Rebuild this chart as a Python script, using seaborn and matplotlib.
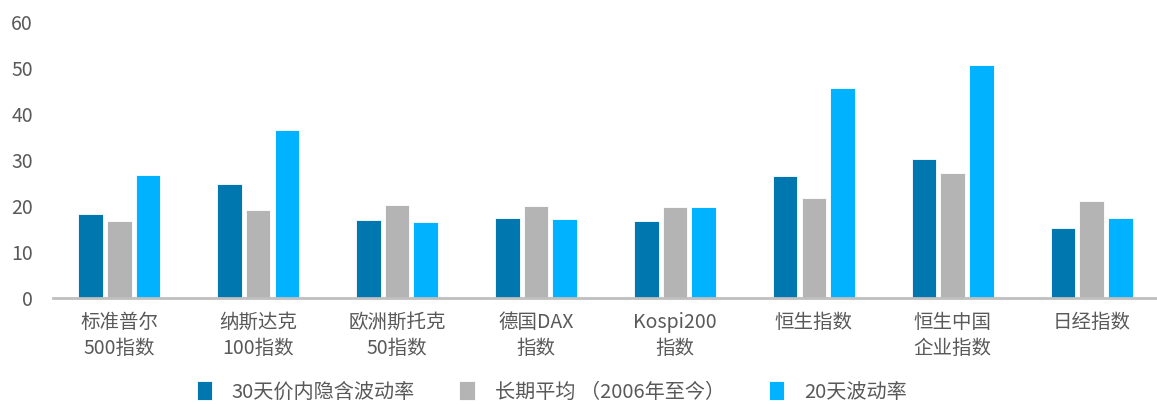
import pandas as pd
import seaborn as sns
import matplotlib.pyplot as plt

indices = ['标准普尔\n500指数', '纳斯达克\n100指数', '欧洲斯托克\n50指数', '德国DAX\n指数',
           'Kospi200\n指数', '恒生指数', '恒生中国\n企业指数', '日经指数']
implied_30d = [18.3, 24.9, 16.9, 17.5, 16.7, 26.5, 30.2, 15.3]
long_avg = [16.7, 19.1, 20.2, 20.0, 19.9, 21.7, 27.1, 21.2]
realized_20d = [26.7, 36.6, 16.5, 17.2, 19.8, 45.7, 50.6, 17.5]
series_names = ['30天价内隐含波动率', '长期平均 （2006年至今）', '20天波动率']
colors = ['#0077AE', '#B4B4B4', '#00B2FF']

# long form table for seaborn
rows = []
for name, vals in zip(series_names, [implied_30d, long_avg, realized_20d]):
    for idx, v in zip(indices, vals):
        rows.append({'index': idx, 'series': name, 'value': v})
data = pd.DataFrame(rows)

sns.set_style('white')
plt.rcParams['font.family'] = ['Noto Sans CJK SC', 'DejaVu Sans']

fig = plt.figure(figsize=(11.57, 4.04), dpi=100)
ax = fig.add_axes([0.0454, 0.262, 0.9546, 0.6835])

sns.barplot(data=data, x='index', y='value', hue='series', hue_order=series_names,
            palette=colors, width=0.62, gap=0.14, edgecolor='white', linewidth=0.6,
            saturation=1, ax=ax)

ax.set_ylim(0, 60)
ax.set_xlim(-0.48, 7.47)
ax.set_yticks(range(0, 61, 10))
ax.set_xlabel('')
ax.set_ylabel('')
for s in ['top', 'right', 'left']:
    ax.spines[s].set_visible(False)
ax.spines['bottom'].set_color('#BFBFBF')
ax.spines['bottom'].set_linewidth(2)
ax.tick_params(axis='y', length=0, pad=14, labelsize=14, labelcolor='#595959')
ax.tick_params(axis='x', length=0, pad=10, labelsize=14, labelcolor='#595959')
for lbl in ax.get_xticklabels():
    lbl.set_linespacing(1.3)

ax.legend(loc='center', bbox_to_anchor=(0.477, 0.03), bbox_transform=fig.transFigure,
          ncol=3, frameon=False, fontsize=14.5, labelcolor='#595959',
          handlelength=0.75, handleheight=1.1, handletextpad=1.0, columnspacing=2.2)

plt.savefig('out.png', dpi=100)
